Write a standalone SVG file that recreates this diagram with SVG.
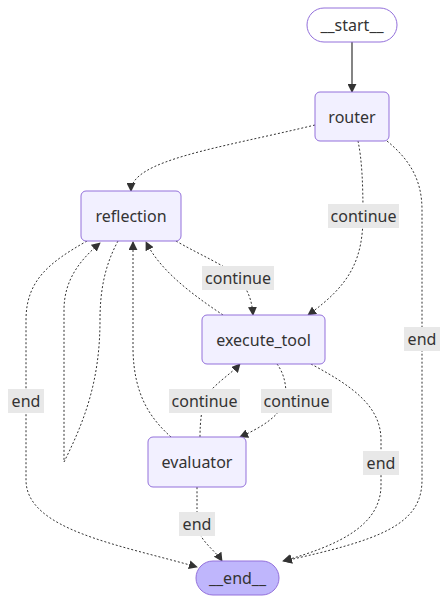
<svg xmlns="http://www.w3.org/2000/svg" width="448" height="603" viewBox="0 0 448 603">
<style>
.node rect{fill:#f2f0ff;stroke:#9370DB;stroke-width:1}
.node text,.lbl text{font-family:"Noto Sans","Open Sans","Liberation Sans",sans-serif;font-size:16px;fill:#333;text-anchor:middle;dominant-baseline:central}
.e{fill:none;stroke:#333;stroke-width:1;stroke-dasharray:2 2;marker-end:url(#arr)}
.s{fill:none;stroke:#333;stroke-width:1.2;marker-end:url(#arr)}
.lbl rect{fill:#e8e8e8}
</style>
<defs>
<marker id="arr" viewBox="0 0 10 10" refX="9" refY="5" markerUnits="userSpaceOnUse" markerWidth="9" markerHeight="9" orient="auto"><path d="M0,0 L10,5 L0,10 z" fill="#333"/></marker>
</defs>
<rect width="448" height="603" fill="#fff"/>
<g id="edges">
<path class="s" d="M352,42 L352,92"/>
<path class="e" d="M315,125 C220,148 131,160 131,191"/>
<path class="e" d="M358,141 C362,160 363,185 363,215 C363,260 350,285 308,315"/>
<path class="e" d="M387,141 C410,160 422,180 422,210 L422,480 C422,525 380,540 284,561"/>
<path class="e" d="M176,241 C200,255 225,265 238,277 C248,290 252,300 253,315"/>
<path class="e" d="M223,315 C190,293 160,270 146,242"/>
<path class="e" d="M200,437 C200,420 202,410 204,400 C212,385 230,375 240,364"/>
<path class="e" d="M277,364 C283,372 286,382 286,395 C284,415 260,428 240,437"/>
<path class="e" d="M311,364 C350,385 381,405 381,440 L381,485 C381,525 340,545 283,561"/>
<path class="e" d="M87,241 C50,262 26,280 26,320 L26,480 C26,530 120,545 197,567"/>
<path class="e" d="M171,437 C150,418 134,395 133,350 L133,242"/>
<path class="e" d="M118,241 C105,265 100,290 100,320 C100,380 85,420 64,462 L64,310 C64,280 80,260 100,243"/>
<path class="e" d="M197,487 C197,505 197,515 197,524 C198,540 215,550 222,561"/>
</g>
<g id="labels">
<g class="lbl"><rect x="328" y="204" width="71" height="24"/><text x="363.5" y="216">continue</text></g>
<g class="lbl"><rect x="202" y="266" width="72" height="24"/><text x="238" y="278">continue</text></g>
<g class="lbl"><rect x="404" y="327" width="36" height="24"/><text x="422" y="339">end</text></g>
<g class="lbl"><rect x="8" y="389" width="36" height="24"/><text x="26" y="401">end</text></g>
<g class="lbl"><rect x="169" y="389" width="71" height="24"/><text x="204.5" y="401">continue</text></g>
<g class="lbl"><rect x="261" y="389" width="71" height="24"/><text x="296.5" y="401">continue</text></g>
<g class="lbl"><rect x="363" y="451" width="36" height="24"/><text x="381" y="463">end</text></g>
<g class="lbl"><rect x="179" y="512" width="36" height="24"/><text x="197" y="524">end</text></g>
</g>
<g id="start" class="node"><rect x="307" y="8" width="90" height="34" rx="17" style="fill:#fff"/><text x="352" y="25">__start__</text></g>
<g id="router" class="node"><rect x="315" y="92" width="74" height="49" rx="5"/><text x="352" y="116.5">router</text></g>
<g id="reflection" class="node"><rect x="81" y="191" width="100" height="50" rx="5"/><text x="131" y="216">reflection</text></g>
<g id="execute_tool" class="node"><rect x="202" y="315" width="123" height="49" rx="5"/><text x="263.5" y="339.5">execute_tool</text></g>
<g id="evaluator" class="node"><rect x="148" y="437" width="98" height="50" rx="5"/><text x="197" y="462">evaluator</text></g>
<g id="end" class="node"><rect x="196" y="561" width="83" height="34" rx="17" style="fill:#bfb6fc"/><text x="237.5" y="578">__end__</text></g>
</svg>
